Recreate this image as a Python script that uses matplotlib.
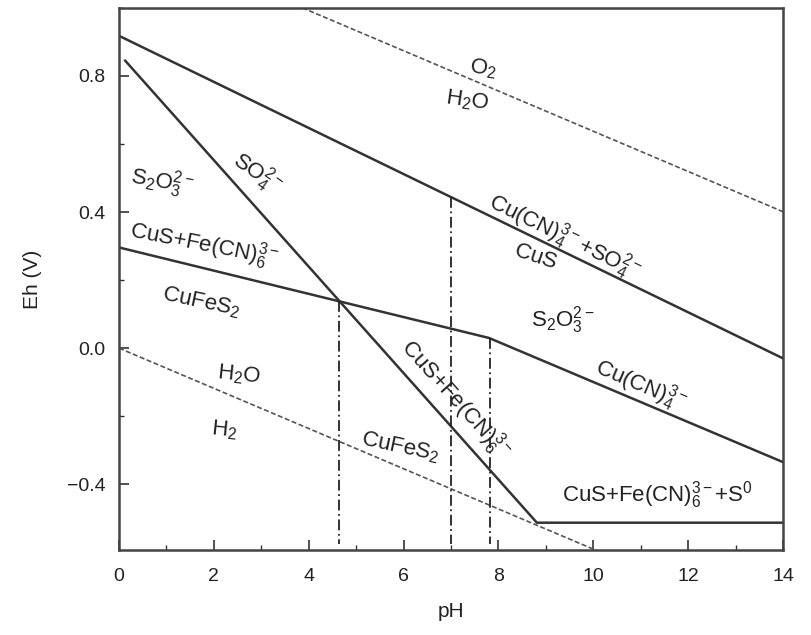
import numpy as np
import matplotlib
matplotlib.use('Agg')
import matplotlib.pyplot as plt
from matplotlib.ticker import MultipleLocator

plt.rcParams['font.family'] = ['Liberation Sans', 'DejaVu Sans']
plt.rcParams['mathtext.fontset'] = 'custom'
plt.rcParams['mathtext.rm'] = 'Liberation Sans'
plt.rcParams['mathtext.it'] = 'Liberation Sans:italic'

# water stability lines
water_ph = [0, 14]
o2_h2o_eh = [1.229, 0.401]
h2o_h2_eh = [0.0, -0.827]

# Cu(CN)4 + SO4 / CuS boundary
top_ph = [0, 14]
top_eh = [0.918, -0.030]

# SO4 / S2O3 and CuS+Fe(CN)6 / CuFeS2 boundary, then S0 floor
steep_ph = [0.13, 8.81, 14]
steep_eh = [0.845, -0.513, -0.513]

# CuS+Fe(CN)6 / CuFeS2 and Cu(CN)4 boundary
mid_ph = [0, 7.8, 14]
mid_eh = [0.296, 0.030, -0.335]

# vertical boundaries
vline_ph = [4.64, 7.0, 7.82]
vline_top = [0.138, 0.444, 0.030]

# region labels: text, pH, Eh, rotation
labels = [
    (r'$\mathregular{O_2}$', 7.68, 0.822, -8),
    (r'$\mathregular{H_2O}$', 7.34, 0.728, -8),
    (r'$\mathregular{S_2O_3^{2-}}$', 0.90, 0.490, -10),
    (r'$\mathregular{SO_4^{2-}}$', 2.92, 0.515, -35),
    (r'$\mathregular{CuS{+}Fe(CN)_6^{3-}}$', 1.80, 0.305, -11),
    (r'$\mathregular{CuFeS_2}$', 1.73, 0.135, -12),
    (r'$\mathregular{Cu(CN)_4^{3-}{+}SO_4^{2-}}$', 9.40, 0.326, -26),
    (r'$\mathregular{CuS}$', 8.77, 0.268, -18),
    (r'$\mathregular{S_2O_3^{2-}}$', 9.36, 0.082, 0),
    (r'$\mathregular{Cu(CN)_4^{3-}}$', 11.0, -0.108, -23),
    (r'$\mathregular{CuS{+}Fe(CN)_6^{3-}}$', 7.10, -0.150, -48),
    (r'$\mathregular{CuFeS_2}$', 5.92, -0.290, -12),
    (r'$\mathregular{CuS{+}Fe(CN)_6^{3-}{+}S^0}$', 11.35, -0.432, 0),
    (r'$\mathregular{H_2O}$', 2.53, -0.080, -6),
    (r'$\mathregular{H_2}$', 2.22, -0.240, -6),
]

fig = plt.figure(figsize=(8.12, 6.35), dpi=100)
ax = fig.add_axes([0.1466, 0.134, 0.8177, 0.8535])

line_color = '#333333'
ax.plot(water_ph, o2_h2o_eh, color='#555555', lw=1.2, ls=(0, (3, 1.5)))
ax.plot(water_ph, h2o_h2_eh, color='#555555', lw=1.2, ls=(0, (3, 1.5)))
ax.plot(top_ph, top_eh, color=line_color, lw=1.8)
ax.plot(steep_ph, steep_eh, color=line_color, lw=1.8)
ax.plot(mid_ph, mid_eh, color=line_color, lw=1.8)
for x, ytop in zip(vline_ph, vline_top):
    ax.plot([x, x], [ytop, -0.575], color='#222222', lw=1.3,
            ls=(0, (6, 2, 1, 2)))

for text, x, y, rot in labels:
    ax.text(x, y, text, fontsize=16, color='#222222', rotation=rot,
            ha='center', va='center', rotation_mode='anchor')

ax.set_xlim(0, 14)
ax.set_ylim(-0.593, 1.0)
ax.xaxis.set_major_locator(MultipleLocator(2))
ax.xaxis.set_minor_locator(MultipleLocator(1))
ax.yaxis.set_major_locator(MultipleLocator(0.4))
ax.yaxis.set_minor_locator(MultipleLocator(0.2))
ax.tick_params(which='both', direction='in', top=False, right=False,
               colors='#333333', labelcolor='#222222', labelsize=14)
ax.tick_params(which='major', length=7, width=1.2)
ax.tick_params(which='minor', length=3.5, width=1.0)
ax.tick_params(axis='x', pad=13)
ax.tick_params(axis='y', pad=10)
for spine in ax.spines.values():
    spine.set_linewidth(1.8)
    spine.set_color('#444444')

ax.set_xlabel('pH', fontsize=15, labelpad=12, color='#222222')
ax.set_ylabel('Eh (V)', fontsize=15, labelpad=18, color='#222222')

fig.savefig('out.png', dpi=100)
